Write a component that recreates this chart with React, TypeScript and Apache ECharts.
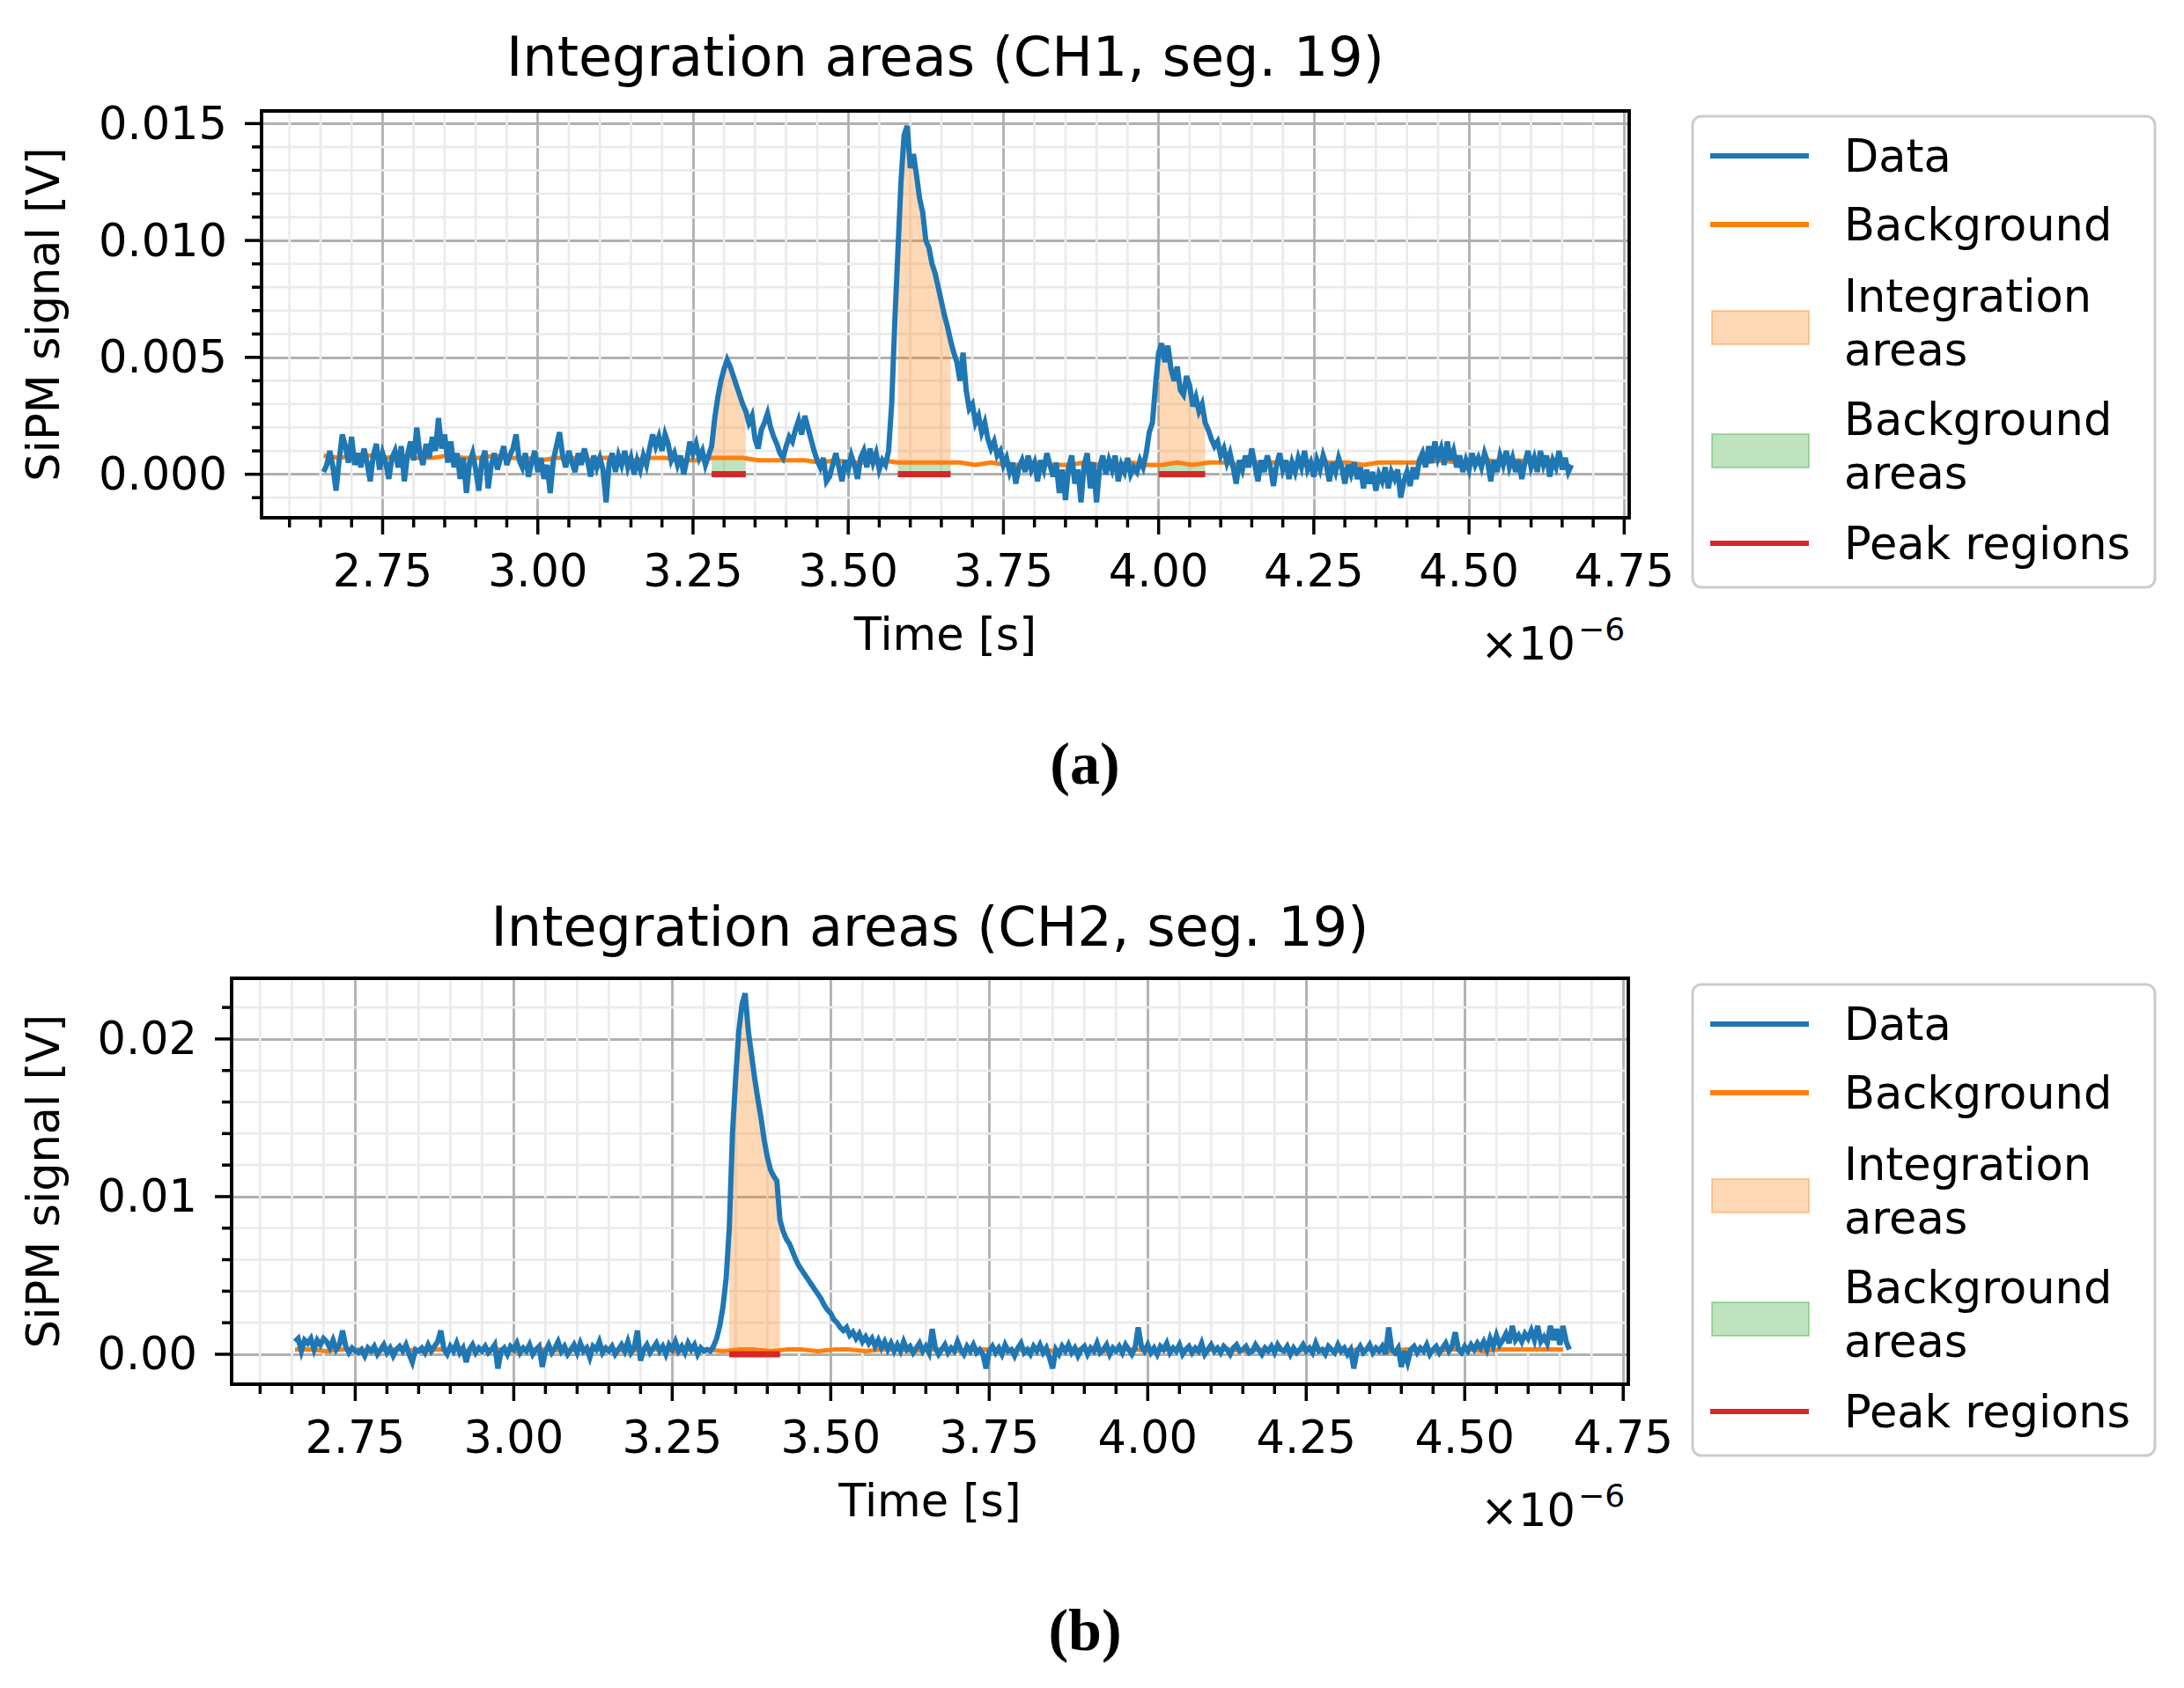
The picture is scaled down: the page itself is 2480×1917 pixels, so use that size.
import React, { useEffect, useRef } from "react";
import * as echarts from "echarts";

// ---------- data (time in microseconds, signal in units of 1e-4 V) ----------
const T0 = 2.655;
const DT = 0.005;
const UNIT = 1e-4;

const CH1 = [
  1, 4, 10, 3, -7, 6, 17, 12, 5, 16, 4, 9, 3, 11, 5, -3, 8, 13, 2, 9,
  5, -2, 7, 10, 3, 12, -3, 8, 14, 6, 20, 9, 4, 13, 7, 16, 10, 24, 11, 17,
  5, 14, 3, 9, -2, 7, -8, 5, 9, 2, -7, 6, 10, -6, 4, 9, 2, 7, 12, 4,
  8, 11, 17, 6, 3, 9, -1, 5, 10, 1, 7, -2, 4, -8, 6, 12, 18, 8, 3, 10,
  5, 1, 9, 4, 11, 6, -1, 8, 3, 7, 2, -12, 5, 9, 1, 8, 4, 10, 3, 7,
  0, 6, 2, 8, 4, 11, 17, 12, 16, 10, 17, 13, 6, 9, 4, 8, 0, 6, 14, 9,
  13, 7, 10, 4, 8, 12, 24, 33, 40, 45, 49, 46, 42, 38, 34, 30, 27, 22, 25, 15,
  11, 19, 22, 26, 20, 16, 13, 9, 7, 12, 16, 14, 19, 23, 17, 25, 20, 15, 10, 6,
  3, 7, -3, -1, 4, 9, 3, -3, 6, 2, 8, 4, -2, 7, 10, 3, 11, 5, 9, 2,
  6, 4, 10, 30, 65, 95, 125, 145, 149, 131, 137, 128, 118, 112, 100, 97, 90, 86, 80, 74,
  68, 63, 57, 52, 48, 40, 52, 36, 28, 30, 22, 25, 18, 22, 15, 11, 14, 8, 10, 4,
  7, 1, 5, -4, 3, 6, 1, 8, 2, 5, -3, 6, 2, 9, 4, -1, 5, -8, 2, -11,
  3, 8, -4, 2, -12, 4, 9, -6, 5, -12, 3, 8, 0, 6, 2, 8, -3, 4, 1, 7,
  0, 3, 1, 6, 3, 9, 18, 22, 38, 52, 56, 48, 55, 45, 40, 46, 36, 34, 42, 38,
  29, 33, 27, 30, 22, 19, 15, 12, 14, 8, 11, 5, 9, 3, -4, 6, 2, 8, 3, 11,
  4, -3, 6, 1, 8, 3, -5, 4, 9, 2, 6, -2, 5, 1, 7, 3, 10, 2, 5, -1,
  6, 2, 8, 4, -3, 5, 1, 7, 3, -4, 4, 0, 5, -2, 3, -6, 2, -4, 1, -7,
  0, -3, 3, -6, 1, -2, 2, -10, -3, 1, -5, 3, -2, 6, 9, 3, 12, 5, 14, 7,
  11, 4, 14, 6, 10, 3, 8, 1, 6, 2, 9, 4, 7, 3, 9, 5, -3, 6, 1, 8,
  4, 10, 3, 7, 1, 6, -2, 5, 10, 3, 7, 1, 10, 4, 8, -1, 6, 3, 10, 2,
  7, 1, 4,
];

const CH2 = [
  8, 10, 2, 9, 7, 10, 3, 9, 6, 10, 8, 4, 9, 3, 6, 15, 5, 1, 4, 2,
  1, 3, -1, 4, 2, 5, 0, 3, 6, 1, 4, -1, 3, 5, 2, 6, 0, -5, 3, 2,
  4, 1, 6, 2, 5, 8, 15, 3, 0, 5, 2, 7, 1, 4, -5, 3, 6, 1, 4, 2,
  5, 1, 3, 6, -9, 2, 4, 0, 5, 3, 7, 1, 4, 2, 6, 0, 3, 5, -8, 2,
  6, 1, 4, 8, 2, 5, 0, 3, 6, 1, 7, 2, 4, -2, 5, 3, 8, 1, 4, 2,
  5, 0, 3, 6, 2, 8, 1, 4, 15, -4, 3, 6, 1, 4, 7, 2, 5, 0, 6, 3,
  8, 2, 5, 1, 7, 3, 6, 0, 4, 2, 3, 2, 5, 10, 18, 30, 48, 80, 140, 175,
  205, 222, 229, 205, 190, 175, 162, 150, 136, 125, 117, 113, 110, 85, 78, 73, 70, 65, 60, 56,
  53, 50, 47, 44, 41, 38, 35, 31, 28, 26, 22, 20, 17, 15, 17, 12, 14, 10, 13, 8,
  11, 7, 10, 5, 9, 4, 8, 3, 7, 2, 6, 2, 8, 3, 5, 1, 4, 7, 2, 5,
  1, 16, 4, 0, 3, 6, 1, 4, 2, 8, 3, 0, 5, 2, 6, 1, 3, 0, -9, 2,
  5, 1, 4, 0, 6, 2, 3, -1, 4, 7, 1, 3, 0, 5, 2, 6, 1, 4, -2, -9,
  3, 0, 5, 2, 6, 1, 4, -1, 3, 5, 0, 4, 2, 7, 1, 3, 6, 0, 4, 2,
  5, 1, 6, 3, 0, 4, 17, 5, 2, 6, 1, 4, 0, 5, 3, 7, 1, 4, 2, 6,
  0, 3, 5, 1, 4, 2, 7, 0, 3, 6, 2, 4, 1, 5, 3, 0, 4, 6, 2, 3,
  5, 1, 2, 6, 3, 0, 4, 2, 5, 1, 6, 3, 2, 5, 0, 4, 1, 3, 6, 2,
  4, 1, 7, 2, 3, 0, 5, 3, 1, 6, 2, 4, 0, 3, -9, 2, 5, 1, 3, 6,
  1, 4, 2, 5, 0, 17, 3, 1, 4, -8, 2, -5, 3, 5, 1, 4, 2, 6, 0, 3,
  5, 1, 4, 7, 2, 5, 14, 3, 1, 5, 2, 6, 3, 7, 4, 8, 3, 10, 5, 12,
  6, 9, 13, 7, 18, 9, 12, 8, 13, 10, 15, 9, 18, 8, 11, 7, 18, 9, 16, 6,
  18, 8, 3,
];

// background estimate (coarser sampling), 1e-4 V
const BG_DT = 0.025;
const BG1 = [
  8, 7, 8, 8, 7, 8, 7, 7, 8, 7,
  7, 8, 7, 7, 6, 7, 7, 6, 7, 7,
  6, 7, 7, 6, 6, 7, 7, 7, 6, 6,
  6, 6, 5, 6, 5, 5, 6, 5, 5, 5,
  5, 5, 4, 5, 4, 4, 5, 4, 4, 5,
  4, 4, 5, 4, 4, 5, 4, 5, 5, 4,
  5, 5, 5, 4, 5, 5, 5, 4, 5, 5,
  5, 5, 6, 5, 5, 6, 5, 6, 5, 6,
  6,
];
const BG2 = [
  3, 3, 2, 3, 3, 2, 3, 3, 2, 3,
  3, 2, 3, 3, 2, 3, 3, 2, 3, 3,
  3, 2, 3, 3, 2, 3, 3, 2, 3, 3,
  2, 3, 3, 2, 3, 3, 2, 3, 3, 2,
  3, 3, 2, 3, 3, 2, 3, 3, 2, 3,
  3, 2, 3, 3, 2, 3, 3, 2, 3, 3,
  2, 3, 3, 2, 3, 3, 2, 3, 3, 2,
  3, 3, 2, 3, 3, 2, 3, 3, 3, 3,
  3,
];

// peak windows [start, end] in microseconds
const WIN1 = [
  [3.28, 3.335],
  [3.58, 3.665],
  [4.0, 4.075],
];
const WIN2 = [[3.34, 3.42]];

// ticks
const X_MAJOR = [2.75, 3.0, 3.25, 3.5, 3.75, 4.0, 4.25, 4.5, 4.75];
const Y1_MAJOR = [0, 0.005, 0.01, 0.015];
const Y2_MAJOR = [0, 0.01, 0.02];

// texts
const TITLES = ["Integration areas (CH1, seg. 19)", "Integration areas (CH2, seg. 19)"];
const X_NAME = "Time [s]";
const Y_NAME = "SiPM signal [V]";
const PANEL_TAGS = ["(a)", "(b)"];
const LEGEND_LABELS = ["Data", "Background", "Integration\nareas", "Background\nareas", "Peak regions"];

// ---------- styling / layout ----------
const FONT = "'DejaVu Sans', sans-serif";
const FS = 51;
const C_DATA = "#1f77b4";
const C_BG = "#ff7f0e";
const C_PEAK = "#d62728";
const C_INT = "rgba(255,127,14,0.3)";
const C_BGA = "rgba(44,160,44,0.3)";
const C_MAJOR = "#b0b0b0";
const C_MINOR = "#ebebeb";

const XMIN = 2.555;
const XMAX = 4.758;
const PANELS = [
  {
    grid: { left: 297, top: 126, width: 1553, height: 462 },
    ymin: -0.00186, ymax: 0.01554, yStep: 0.005, yMinor: 0.001, yDec: 3,
    yNameGap: 222, data: CH1, bg: BG1, wins: WIN1, yMajor: Y1_MAJOR,
    titleY: 33, legendTop: 132, tagY: 867,
  },
  {
    grid: { left: 263, top: 1111, width: 1586, height: 461 },
    ymin: -0.0019, ymax: 0.02385, yStep: 0.01, yMinor: 0.002, yDec: 2,
    yNameGap: 188, data: CH2, bg: BG2, wins: WIN2, yMajor: Y2_MAJOR,
    titleY: 1021, legendTop: 1118, tagY: 1851,
  },
];

const r6 = (v: number) => Math.round(v * 1e6) / 1e6;

function bgAt(bg: number[], t: number) {
  const f = (t - T0) / BG_DT;
  let k = Math.floor(f);
  if (k < 0) k = 0;
  if (k >= bg.length - 1) return bg[bg.length - 1] * UNIT;
  const r = f - k;
  return (bg[k] * (1 - r) + bg[k + 1] * r) * UNIT;
}

function minorList(min: number, max: number, step: number) {
  const out: number[] = [];
  const k0 = Math.ceil(min / step - 1e-9);
  const k1 = Math.floor(max / step + 1e-9);
  for (let k = k0; k <= k1; k++) {
    if (k % 5 === 0) continue;
    out.push(r6(k * step));
  }
  return out;
}

function buildOption() {
  const grids: any[] = [];
  const xAxes: any[] = [];
  const yAxes: any[] = [];
  const series: any[] = [];
  const titles: any[] = [];
  const graphics: any[] = [];

  PANELS.forEach((P, gi) => {
    const g = P.grid;
    grids.push({ ...g, show: false, containLabel: false, outerBoundsMode: "none" });

    xAxes.push({
      type: "value", gridIndex: gi, min: XMIN, max: XMAX,
      minInterval: 0.25, maxInterval: 0.25,
      axisLine: { show: false }, axisTick: { show: false },
      splitLine: { show: true, lineStyle: { color: C_MAJOR, width: 2.8 } },
      axisLabel: {
        margin: 35, fontSize: FS, color: "#000", fontFamily: FONT,
        showMinLabel: false, showMaxLabel: false,
        formatter: (v: number) => (X_MAJOR.some((m) => Math.abs(m - v) < 1e-6) ? v.toFixed(2) : ""),
      },
      name: X_NAME, nameLocation: "middle", nameGap: 107,
      nameTextStyle: { fontSize: FS, color: "#000", fontFamily: FONT },
    });
    yAxes.push({
      type: "value", gridIndex: gi, min: P.ymin, max: P.ymax,
      minInterval: P.yStep, maxInterval: P.yStep,
      axisLine: { show: false }, axisTick: { show: false },
      splitLine: { show: true, lineStyle: { color: C_MAJOR, width: 2.8 } },
      axisLabel: {
        margin: 39, fontSize: FS, color: "#000", fontFamily: FONT,
        showMinLabel: false, showMaxLabel: false,
        formatter: (v: number) => (P.yMajor.some((m) => Math.abs(m - v) < 1e-9) ? Math.abs(v).toFixed(P.yDec) : ""),
      },
      name: Y_NAME, nameLocation: "middle", nameGap: P.yNameGap, nameRotate: 90,
      nameTextStyle: { fontSize: FS, color: "#000", fontFamily: FONT },
    });

    // ticks + minor grid
    const xMinor = minorList(XMIN, XMAX, 0.05);
    const yMinor = minorList(P.ymin, P.ymax, P.yMinor);
    const tickData: number[][] = [];
    X_MAJOR.forEach((v) => tickData.push([v, P.ymin, 0]));
    xMinor.forEach((v) => { tickData.push([v, P.ymin, 1]); tickData.push([v, P.ymin, 2]); });
    P.yMajor.forEach((v) => tickData.push([XMIN, v, 3]));
    yMinor.forEach((v) => { tickData.push([XMIN, v, 4]); tickData.push([XMIN, v, 5]); });
    series.push({
      type: "custom", xAxisIndex: gi, yAxisIndex: gi, z: 0, silent: true, clip: false,
      data: tickData, encode: { x: 0, y: 1 },
      renderItem: (params: any, api: any) => {
        const cs = params.coordSys;
        const kind = api.value(2);
        const bottom = cs.y + cs.height;
        if (kind <= 2) {
          const px = api.coord([api.value(0), P.ymin])[0];
          if (kind === 2)
            return { type: "line", shape: { x1: px, y1: cs.y, x2: px, y2: bottom }, style: { stroke: C_MINOR, lineWidth: 2.7 } };
          const len = kind === 0 ? 19 : 11;
          return { type: "line", shape: { x1: px, y1: bottom, x2: px, y2: bottom + len }, style: { stroke: "#000", lineWidth: 3.5 } };
        }
        const py = api.coord([XMIN, api.value(1)])[1];
        if (kind === 5)
          return { type: "line", shape: { x1: cs.x, y1: py, x2: cs.x + cs.width, y2: py }, style: { stroke: C_MINOR, lineWidth: 2.7 } };
        const len = kind === 3 ? 19 : 11;
        return { type: "line", shape: { x1: cs.x - len, y1: py, x2: cs.x, y2: py }, style: { stroke: "#000", lineWidth: 3.5 } };
      },
    });

    // fills: integration areas (data above background) and background areas (0 to background)
    const fill = (isInt: boolean) => ({
      type: "custom", xAxisIndex: gi, yAxisIndex: gi, z: 1, silent: true,
      data: P.wins.map((w) => [w[0], 0, w[1]]), encode: { x: 0, y: 1 },
      renderItem: (params: any, api: any) => {
        const a = api.value(0), b = api.value(2);
        const i0 = Math.round((a - T0) / DT), i1 = Math.round((b - T0) / DT);
        const top: number[][] = [], bot: number[][] = [];
        for (let i = i0; i <= i1; i++) {
          const t = T0 + i * DT;
          const yb = bgAt(P.bg, t);
          top.push(api.coord([t, isInt ? P.data[i] * UNIT : yb]));
          bot.push(api.coord([t, isInt ? yb : 0]));
        }
        return { type: "polygon", shape: { points: top.concat(bot.reverse()) }, style: { fill: isInt ? C_INT : C_BGA } };
      },
    });
    series.push(fill(false));
    series.push(fill(true));

    series.push({
      type: "line", xAxisIndex: gi, yAxisIndex: gi, z: 2, silent: true,
      showSymbol: false, symbol: "none",
      data: P.bg.map((v, i) => [r6(T0 + i * BG_DT), v * UNIT]),
      lineStyle: { color: C_BG, width: 5 },
    });
    series.push({
      type: "line", xAxisIndex: gi, yAxisIndex: gi, z: 3, silent: true,
      showSymbol: false, symbol: "none",
      data: P.data.map((v, i) => [r6(T0 + i * DT), v * UNIT]),
      lineStyle: { color: C_DATA, width: 6, join: "miter" },
    });
    P.wins.forEach((w) => {
      series.push({
        type: "line", xAxisIndex: gi, yAxisIndex: gi, z: 4, silent: true,
        showSymbol: false, symbol: "none",
        data: [[w[0], 0], [w[1], 0]],
        lineStyle: { color: C_PEAK, width: 7 },
      });
    });

    titles.push({
      text: TITLES[gi], left: g.left + g.width / 2, top: P.titleY, textAlign: "center", padding: 0,
      textStyle: { fontSize: 62, fontWeight: "normal", color: "#000", fontFamily: FONT },
    });

    // frame
    graphics.push({
      type: "rect", silent: true, z: 100,
      shape: { x: g.left, y: g.top, width: g.width, height: g.height },
      style: { fill: "none", stroke: "#000", lineWidth: 3.8 },
    });
    // offset text
    const gb = g.top + g.height;
    graphics.push({
      type: "text", silent: true, z: 100, x: 1789, y: gb + 143,
      style: { text: "×10", fontSize: FS, fontFamily: FONT, fill: "#000", align: "right", verticalAlign: "middle" },
    });
    graphics.push({
      type: "text", silent: true, z: 100, x: 1792, y: gb + 126,
      style: { text: "−6", fontSize: 36, fontFamily: FONT, fill: "#000", align: "left", verticalAlign: "middle" },
    });
    // panel tag
    graphics.push({
      type: "text", silent: true, z: 100, x: 1232, y: P.tagY,
      style: { text: PANEL_TAGS[gi], fontSize: 68, fontWeight: "bold", fontFamily: "'Liberation Serif', serif", fill: "#000", align: "center", verticalAlign: "middle" },
    });

    // legend
    const L = P.legendTop;
    const LX = 1922;
    graphics.push({
      type: "rect", silent: true, z: 100,
      shape: { x: LX, y: L, width: 525, height: 535, r: 10 },
      style: { fill: "rgba(255,255,255,0.8)", stroke: "#cccccc", lineWidth: 3 },
    });
    const rows = [L + 45, L + 123, L + 235, L + 375, L + 485];
    const handles = [
      { type: "line", color: C_DATA },
      { type: "line", color: C_BG },
      { type: "patch", color: C_INT, edge: "rgba(255,127,14,0.35)" },
      { type: "patch", color: C_BGA, edge: "rgba(44,160,44,0.35)" },
      { type: "line", color: C_PEAK },
    ];
    handles.forEach((h, k) => {
      const y = rows[k];
      if (h.type === "line") {
        graphics.push({
          type: "line", silent: true, z: 101,
          shape: { x1: LX + 20, y1: y, x2: LX + 132, y2: y },
          style: { stroke: h.color, lineWidth: 6 },
        });
      } else {
        graphics.push({
          type: "rect", silent: true, z: 101,
          shape: { x: LX + 22, y: y - 14, width: 110, height: 38 },
          style: { fill: h.color, stroke: h.edge, lineWidth: 2 },
        });
      }
      graphics.push({
        type: "text", silent: true, z: 101, x: LX + 172, y,
        style: {
          text: LEGEND_LABELS[k], fontSize: FS, lineHeight: 61, fontFamily: FONT, fill: "#000",
          align: "left", verticalAlign: "middle",
        },
      });
    });
  });

  return {
    animation: false,
    backgroundColor: "#ffffff",
    title: titles,
    grid: grids,
    xAxis: xAxes,
    yAxis: yAxes,
    series,
    graphic: graphics,
  };
}

export default function App() {
  const ref = useRef<HTMLDivElement>(null);
  useEffect(() => {
    document.body.style.margin = "0";
    if (!ref.current) return;
    const chart = echarts.init(ref.current, undefined, { renderer: "svg" });
    chart.setOption(buildOption() as any);
    return () => chart.dispose();
  }, []);
  return <div ref={ref} style={{ width: 2480, height: 1917 }} />;
}
